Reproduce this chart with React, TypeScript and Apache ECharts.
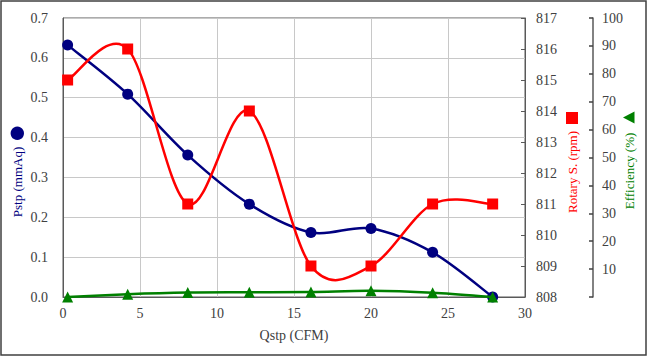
import React, { useEffect, useRef } from "react";
import * as echarts from "echarts";

const qstp = [0.3, 4.2, 8.1, 12.1, 16.1, 20.0, 24.0, 27.9];
const pstp = [0.632, 0.509, 0.356, 0.233, 0.162, 0.172, 0.112, 0.0];
const rotary = [815.0, 816.0, 811.0, 814.0, 809.0, 809.0, 811.0, 811.0];
const efficiency = [0, 1.0, 1.6, 1.7, 1.8, 2.2, 1.5, 0];

const FONT = "Liberation Serif";
const LABEL = "#404040";

function smoothCurve(values: number[], yAxisIndex: number, color: string, z: number) {
  return {
    type: "custom",
    yAxisIndex,
    coordinateSystem: "cartesian2d",
    data: qstp.map((x, i) => [x, values[i]]),
    z,
    silent: true,
    clip: false,
    renderItem: (params: any, api: any) => {
      if (params.dataIndex !== 0) return null;
      const pts = values.map((v, i) => api.coord([qstp[i], v]));
      const n = pts.length;
      let d = `M${pts[0][0]},${pts[0][1]}`;
      for (let i = 0; i < n - 1; i++) {
        const p0 = pts[i - 1] || pts[i];
        const p1 = pts[i];
        const p2 = pts[i + 1];
        const p3 = pts[i + 2] || pts[i + 1];
        const c1x = p1[0] + (p2[0] - p0[0]) / 6;
        const c1y = p1[1] + (p2[1] - p0[1]) / 6;
        const c2x = p2[0] - (p3[0] - p1[0]) / 6;
        const c2y = p2[1] - (p3[1] - p1[1]) / 6;
        d += ` C${c1x},${c1y} ${c2x},${c2y} ${p2[0]},${p2[1]}`;
      }
      return {
        type: "path",
        shape: { pathData: d },
        style: { fill: "none", stroke: color, lineWidth: 2.5 },
      };
    },
  };
}

function markers(values: number[], yAxisIndex: number, color: string, symbol: string, z: number) {
  return {
    type: "scatter",
    yAxisIndex,
    data: qstp.map((x, i) => [x, values[i]]),
    symbol,
    symbolSize: 11,
    itemStyle: { color, opacity: 1 },
    z,
  };
}

export default function App() {
  const ref = useRef<HTMLDivElement>(null);
  useEffect(() => {
    const chart = echarts.init(ref.current!, null, { renderer: "svg" });
    chart.setOption({
      animation: false,
      backgroundColor: "#ffffff",
      textStyle: { fontFamily: FONT },
      grid: {
        left: 63,
        right: 122,
        top: 18,
        bottom: 59,
        show: true,
        borderColor: "#595959",
        borderWidth: 1,
        backgroundColor: "transparent",
      },
      xAxis: {
        type: "value",
        min: 0,
        max: 30,
        interval: 5,
        name: "Qstp (CFM)",
        nameLocation: "middle",
        nameGap: 31,
        nameTextStyle: { fontFamily: FONT, fontSize: 14, color: LABEL },
        axisLine: { show: true, lineStyle: { color: "#595959", width: 1 } },
        axisTick: { show: false },
        axisLabel: { fontFamily: FONT, fontSize: 14, color: LABEL, margin: 9 },
        splitLine: { show: true, lineStyle: { color: "#c8c8c8", width: 1 } },
      },
      yAxis: [
        {
          type: "value",
          min: 0,
          max: 0.7,
          interval: 0.1,
          position: "left",
          axisLine: { show: true, lineStyle: { color: "#595959", width: 1 } },
          axisTick: { show: false },
          axisLabel: {
            fontFamily: FONT,
            fontSize: 14,
            color: LABEL,
            margin: 15,
            formatter: (v: number) => v.toFixed(1),
          },
          splitLine: { show: true, lineStyle: { color: "#c8c8c8", width: 1 } },
        },
        {
          type: "value",
          min: 808,
          max: 817,
          interval: 1,
          position: "right",
          axisLine: { show: true, lineStyle: { color: "#595959", width: 1 } },
          axisTick: { show: true, inside: true, length: 4, lineStyle: { color: "#595959" } },
          axisLabel: { fontFamily: FONT, fontSize: 14, color: LABEL, margin: 11 },
          splitLine: { show: false },
        },
        {
          type: "value",
          min: 0,
          max: 100,
          interval: 10,
          position: "right",
          offset: 68,
          axisLine: { show: true, lineStyle: { color: "#595959", width: 1.5 } },
          axisTick: { show: true, inside: true, length: 4, lineStyle: { color: "#404040", width: 1.5 } },
          axisLabel: {
            fontFamily: FONT,
            fontSize: 14,
            color: LABEL,
            margin: 9,
            formatter: (v: number) => (v === 0 ? "" : String(v)),
          },
          splitLine: { show: false },
        },
      ],
      series: [
        smoothCurve(pstp, 0, "#000080", 3),
        markers(pstp, 0, "#000080", "circle", 4),
        smoothCurve(rotary, 1, "#ff0000", 5),
        markers(rotary, 1, "#ff0000", "rect", 6),
        smoothCurve(efficiency, 2, "#008000", 7),
        markers(efficiency, 2, "#008000", "triangle", 8),
      ],
      graphic: [
        {
          type: "rect",
          shape: { x: 1, y: 1, width: 645, height: 354 },
          style: { fill: "none", stroke: "#404040", lineWidth: 1.5 },
          silent: true,
        },
        {
          type: "text",
          x: 17,
          y: 182,
          rotation: Math.PI / 2,
          style: {
            text: "Pstp (mmAq)",
            fontFamily: FONT,
            fontSize: 13,
            fill: "#000080",
            align: "center",
            verticalAlign: "middle",
          },
        },
        {
          type: "circle",
          shape: { cx: 17.3, cy: 133.3, r: 6.7 },
          style: { fill: "#000080" },
        },
        {
          type: "text",
          x: 572,
          y: 172,
          rotation: Math.PI / 2,
          style: {
            text: "Rotary S. (rpm)",
            fontFamily: FONT,
            fontSize: 13,
            fill: "#ff0000",
            align: "center",
            verticalAlign: "middle",
          },
        },
        {
          type: "rect",
          shape: { x: 566, y: 112, width: 12, height: 12 },
          style: { fill: "#ff0000" },
        },
        {
          type: "text",
          x: 629,
          y: 171,
          rotation: Math.PI / 2,
          style: {
            text: "Efficiency (%)",
            fontFamily: FONT,
            fontSize: 13,
            fill: "#008000",
            align: "center",
            verticalAlign: "middle",
          },
        },
        {
          type: "polygon",
          shape: { points: [[623, 117.5], [634.5, 111.5], [634.5, 123.5]] },
          style: { fill: "#008000" },
        },
      ],
    });
    return () => chart.dispose();
  }, []);
  return (
    <div
      ref={ref}
      style={{ position: "fixed", left: 0, top: 0, width: 647, height: 356 }}
    />
  );
}
